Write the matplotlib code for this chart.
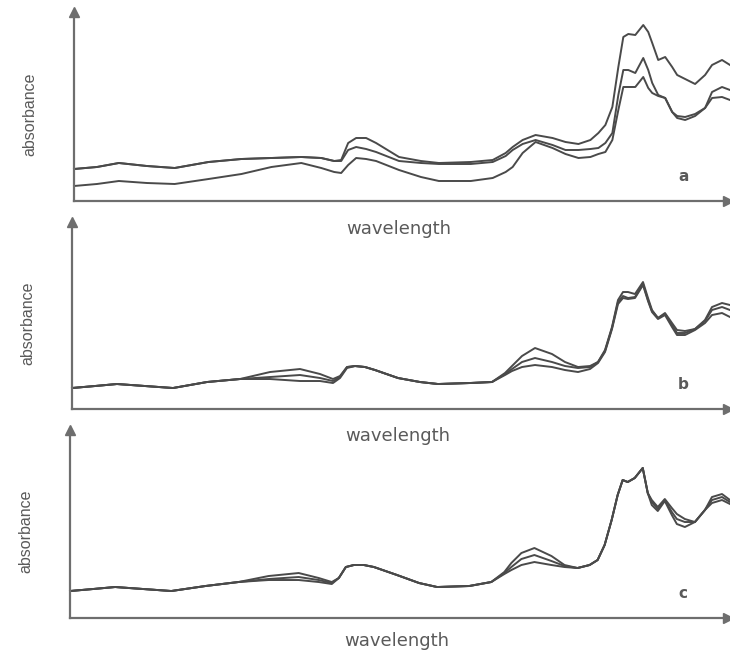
import matplotlib
matplotlib.use("Agg")
import matplotlib.pyplot as plt

# common wavelength grid (arbitrary units, 0 = start of axis)
wavelength = [0, 23, 45, 73, 101, 135, 168, 198, 228, 248, 261, 268, 275, 283, 293, 303,
              326, 348, 366, 398, 420, 433, 440, 450, 463, 480, 493, 506, 518, 526, 533,
              540, 546, 551, 556, 563, 571, 576, 580, 586, 593, 600, 605, 613, 623, 633,
              640, 650, 658]

# panel a - three spectra (absorbance, arbitrary units)
a_top = [32, 34, 38, 35, 33, 39, 42, 43, 44, 43, 40, 41, 58, 63, 63, 58, 44, 40, 38, 39,
         41, 48, 54, 61, 66, 63, 59, 57, 61, 68, 76, 94, 134, 164, 167, 166, 176, 169, 158,
         141, 144, 134, 126, 122, 117, 126, 136, 141, 136]
a_mid = [32, 34, 38, 35, 33, 39, 42, 43, 44, 43, 40, 40, 51, 54, 52, 49, 40, 38, 37, 37,
         39, 45, 51, 57, 61, 56, 51, 51, 52, 53, 58, 68, 106, 131, 131, 128, 143, 131, 118,
         106, 103, 89, 85, 84, 87, 93, 109, 114, 111]
a_low = [15, 17, 20, 18, 17, 22, 27, 34, 38, 33, 29, 28, 36, 43, 42, 40, 31, 24, 20, 20,
         23, 29, 34, 48, 59, 53, 47, 43, 44, 47, 49, 61, 91, 114, 114, 114, 124, 113, 108,
         105, 103, 89, 83, 81, 85, 93, 103, 104, 101]

# panel b
b_top = [21, 23, 25, 23, 21, 27, 30, 37, 40, 35, 30, 33, 42, 43, 42, 39, 31, 27, 25, 26,
         27, 36, 43, 53, 61, 55, 47, 42, 43, 47, 59, 82, 109, 117, 117, 115, 127, 111, 99,
         91, 96, 86, 79, 78, 80, 89, 102, 106, 104]
b_mid = [21, 23, 25, 23, 21, 27, 30, 32, 34, 31, 28, 32, 42, 43, 42, 39, 31, 27, 25, 26,
         27, 35, 40, 47, 51, 47, 43, 41, 42, 47, 58, 81, 107, 113, 111, 112, 125, 109, 98,
         91, 95, 84, 76, 76, 80, 88, 99, 102, 99]
b_low = [21, 23, 25, 23, 21, 27, 30, 30, 28, 28, 26, 31, 41, 43, 42, 39, 31, 27, 25, 26,
         27, 34, 38, 42, 44, 42, 39, 37, 40, 46, 57, 80, 105, 111, 110, 111, 124, 108, 97,
         90, 94, 82, 74, 74, 79, 86, 94, 96, 92]

# panel c
c_top = [27, 29, 31, 29, 27, 32, 36, 42, 45, 40, 36, 40, 51, 53, 53, 51, 43, 35, 31, 32,
         36, 46, 55, 65, 70, 62, 53, 50, 53, 58, 73, 98, 123, 138, 136, 140, 150, 125, 118,
         111, 119, 110, 104, 99, 96, 108, 121, 124, 118]
c_mid = [27, 29, 31, 29, 27, 32, 36, 39, 41, 38, 35, 40, 51, 53, 53, 51, 43, 35, 31, 32,
         36, 45, 51, 59, 63, 57, 52, 50, 53, 58, 73, 98, 123, 138, 136, 140, 150, 125, 116,
         109, 118, 106, 99, 96, 96, 108, 118, 121, 116]
c_low = [27, 29, 31, 29, 27, 32, 36, 38, 38, 36, 34, 40, 51, 53, 53, 51, 43, 35, 31, 32,
         36, 44, 48, 53, 56, 53, 51, 50, 53, 58, 73, 98, 123, 138, 136, 140, 150, 125, 113,
         107, 117, 103, 94, 91, 96, 108, 115, 118, 114]

panels = [
    ("a", [a_top, a_mid, a_low], [74 / 730, 0.6936, 654 / 730, 189 / 656], 189, -0.148),
    ("b", [b_top, b_mid, b_low], [72 / 730, 0.3765, 656 / 730, 187 / 656], 187, -0.144),
    ("c", [c_top, c_mid, c_low], [70 / 730, 0.0579, 658 / 730, 188 / 656], 188, -0.122),
]

line_col = "#4a4a4a"
axis_col = "#6e6e6e"
text_col = "#5a5a5a"

fig = plt.figure(figsize=(7.3, 6.56), dpi=100)

for letter, curves, rect, ytop, wl_y in panels:
    ax = fig.add_axes(rect)
    for y in curves:
        ax.plot(wavelength, y, color=line_col, lw=1.4, clip_on=False,
                solid_joinstyle="round")
    ax.set_xlim(0, 656)
    ax.set_ylim(0, ytop)
    for s in ["top", "right"]:
        ax.spines[s].set_visible(False)
    for s in ["left", "bottom"]:
        ax.spines[s].set_color(axis_col)
        ax.spines[s].set_linewidth(1.6)
    ax.set_xticks([])
    ax.set_yticks([])
    ax.patch.set_alpha(0)
    # arrow heads
    ax.plot(0, 1, "^", color=axis_col, ms=7, transform=ax.transAxes, clip_on=False)
    ax.plot(1, 0, ">", color=axis_col, ms=7, transform=ax.transAxes, clip_on=False)
    ax.text(-0.067, 0.46, "absorbance", rotation=90, ha="center", va="center",
            transform=ax.transAxes, fontsize=11.5, color=text_col, family="Liberation Sans")
    ax.text(0.496, wl_y, "wavelength", ha="center", va="center", transform=ax.transAxes,
            fontsize=13, color=text_col, family="DejaVu Sans")
    ax.text(0.932, 0.13, letter, ha="center", va="center", transform=ax.transAxes,
            fontsize=11, color=text_col, fontweight="bold", family="DejaVu Sans")

fig.savefig("out.png", dpi=100, facecolor="white")
